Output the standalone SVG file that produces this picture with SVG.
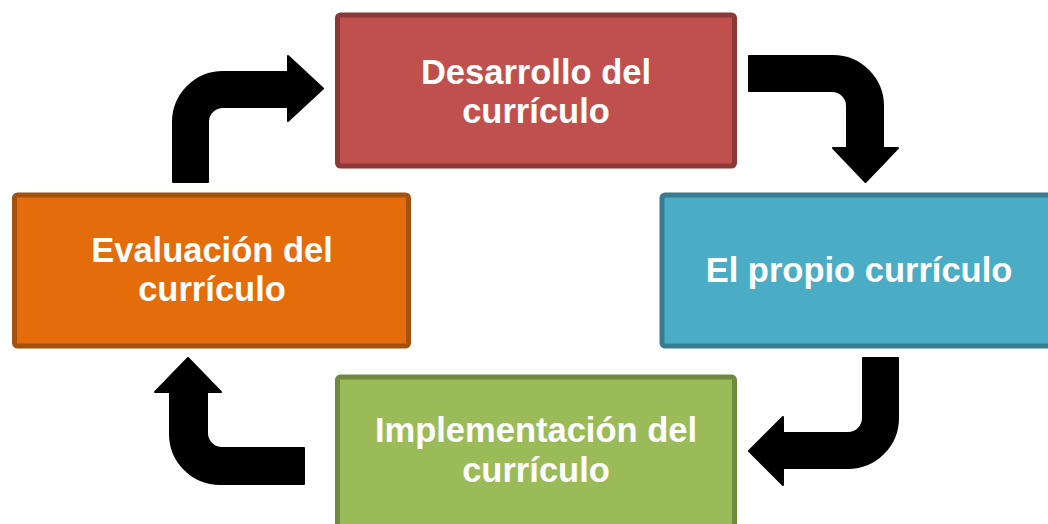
<svg xmlns="http://www.w3.org/2000/svg" width="1048" height="524" viewBox="0 0 1048 524">
<style>
.box{stroke-width:5}
.lbl{font-family:"Liberation Sans",Arial,sans-serif;font-weight:bold;font-size:34.5px;fill:#FFFFFF;text-anchor:middle}
.arr{fill:#000000;stroke:#000000;stroke-width:2;stroke-linejoin:round}
</style>
<rect width="1048" height="524" fill="#FFFFFF"/>
<g id="connectors">
<path class="arr" d="M173,182 L173,122 A50,50 0 0 1 223,72 L288,72 L288,56 L323,88.5 L288,121 L288,107 L223,107 A15,15 0 0 0 208,122 L208,182 Z"/>
<path class="arr" d="M749,56 L833,56 A50,50 0 0 1 883,106 L883,148 L898,148 L865.5,182 L833,148 L847,148 L847,106 A15,15 0 0 0 832,91 L749,91 Z"/>
<path class="arr" d="M863,358 L898,358 L898,418 A50,50 0 0 1 848,468 L783,468 L783,485 L749,451 L783,417 L783,433 L848,433 A15,15 0 0 0 863,418 Z"/>
<path class="arr" d="M304,448 L304,484 L220,484 A50,50 0 0 1 170,434 L170,392 L155,392 L188,358 L221,392 L207,392 L207,433 A15,15 0 0 0 222,448 Z"/>
</g>
<g id="desarrollo">
<rect class="box" x="337.5" y="15" width="397" height="151" rx="3" fill="#C0504D" stroke="#8C3836"/>
<text class="lbl" x="536" y="83.5">Desarrollo del</text>
<text class="lbl" x="536" y="122.5">currículo</text>
</g>
<g id="propio">
<rect class="box" x="662" y="195" width="400" height="151" rx="3" fill="#4BACC6" stroke="#377D8F"/>
<text class="lbl" x="859" y="282">El propio currículo</text>
</g>
<g id="implementacion">
<rect class="box" x="337.5" y="377" width="397" height="151" rx="3" fill="#9BBB59" stroke="#71893F"/>
<text class="lbl" x="536" y="442">Implementación del</text>
<text class="lbl" x="536" y="482">currículo</text>
</g>
<g id="evaluacion">
<rect class="box" x="14.5" y="195" width="394" height="151" rx="3" fill="#E46C0A" stroke="#A4520B"/>
<text class="lbl" x="212" y="261.5">Evaluación del</text>
<text class="lbl" x="212" y="300.5">currículo</text>
</g>
</svg>
